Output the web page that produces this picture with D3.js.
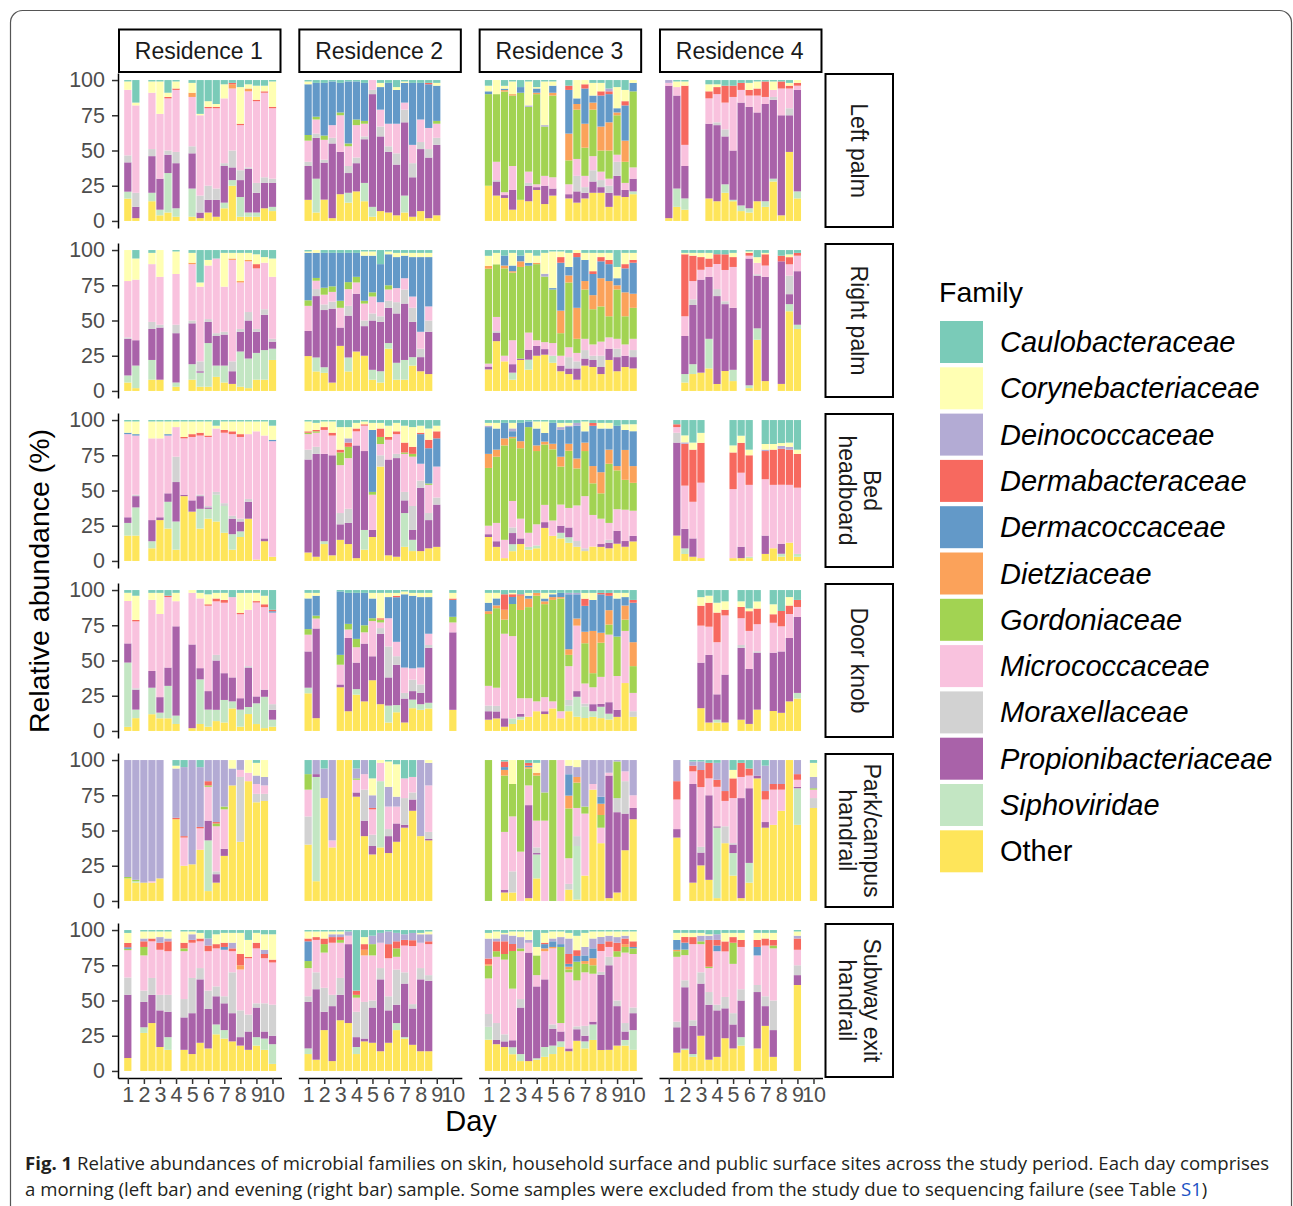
<!DOCTYPE html>
<html>
<head>
<meta charset="utf-8">
<title>Fig. 1</title>
<style>
  body { margin: 0; background: #fff; }
  svg text { font-family: "Liberation Sans", Arial, sans-serif; }
  svg text.caption { font-family: "Open Sans", sans-serif; }
</style>
</head>
<body>
<svg width="1293" height="1206"></svg>
<script src="https://d3js.org/d3.v7.min.js"></script>
<script>

// legend order (top of each bar first)
var families = ["Caulobacteraceae", "Corynebacteriaceae", "Deinococcaceae", "Dermabacteraceae",
  "Dermacoccaceae", "Dietziaceae", "Gordoniaceae", "Micrococcaceae", "Moraxellaceae",
  "Propionibacteriaceae", "Siphoviridae", "Other"];
var familyCodes = ["C", "Y", "D", "R", "B", "T", "G", "M", "X", "P", "S", "O"];
var familyColors = ["#7acbb8", "#ffffb3", "#b3abd4", "#f7695f", "#6399c8", "#fba25a",
  "#a2d352", "#f9c2de", "#d2d2d2", "#a962a9", "#c3e6c3", "#fee55a"];

var residences = ["Residence 1", "Residence 2", "Residence 3", "Residence 4"];
var siteLabels = [["Left palm"], ["Right palm"], ["Bed", "headboard"], ["Door knob"],
  ["Park/campus", "handrail"], ["Subway exit", "handrail"]];
var dayTicks = [1, 2, 3, 4, 5, 6, 7, 8, 9, 10];
var yTicks = [0, 25, 50, 75, 100];

// one string per sample: day1 morning, day1 evening, ... day10 morning (null = excluded)
// codes: C Caulo, Y Coryne, D Deino, R Dermabac, B Dermacocc, T Dietzia, G Gordonia,
//        M Micrococc, X Moraxella, P Propioni, S Siphoviridae, O Other
var leftPalm = [
  ["O16 S5 P21 X5 M47 Y6 C1", "O2 P8 X10 M62 Y2 C16", null, "O14 S6 P26 X5 M40 Y8 C1",
   "O4 S4 P22 M46 Y23 C1", "O6 S28 P13 X3 M37 R1 Y3 C9", "O3 S6 P32 X8 M44 R1 Y5 C1", null,
   "O3 S20 P25 X5 M35 T3 Y7 C2", "O2 P4 X12 M57 Y1 C24", "O6 P9 X10 M55 R1 Y4 C15",
   "O3 P12 X8 M57 R1 Y2 C17", "O9 S4 P26 X2 M46 Y10 C3", "O25 S4 P9 X12 M44 T3 R1 C2",
   "O3 S14 P12 X7 M32 R1 Y26 C5", "O3 S3 P31 X1 M54 T2 Y3 C3", "O3 S3 P14 X7 M58 R1 Y10 C4",
   "O9 P18 X4 M60 R1 Y4 C4", "O7 S3 P17 X3 M50 R1 Y18 C1"],
  ["O15 P24 X3 M15 G4 B36 Y2 C1", "O6 S24 P29 X3 M10 G2 B24 C2", "O15 P26 X2 M14 G3 B37 C2",
   "O2 P53 X4 M9 B31 C1", "O19 P30 M26 G2 B21 C2", "O13 S7 P14 X5 M14 G2 B44 C1",
   "O21 P20 X4 M23 G4 B27 C1", "O14 S13 P31 X2 M9 G2 B27 C2", "O3 S7 P80 X3 M7",
   "O7 P53 X7 M12 B16 Y3 C2", "O6 P43 X4 M16 B29 C2", "O4 P36 X8 M21 B24 Y2 C5",
   "O6 S12 P52 X9 M5 B14 Y1 C1", "O3 P28 X10 M13 B44 C2", "O7 P44 X5 M16 B26 C2",
   "O2 P43 X6 M15 B31 R1 C2", "O4 P50 X5 M10 G2 B25 Y2 C2", null, null],
  ["O25 G65 B2 Y4 C4", "O18 P10 M13 G48 X1 Y10", "O16 P2 M2 G70 T1 B1 Y2 C4",
   "O8 P14 M17 G50 T1 Y9 C1", "O15 G76 B4 C5", "O14 P11 X2 M8 G46 D1 Y17 C1",
   "O22 P2 M2 G64 T1 B3 Y1 C5", "O12 P13 M7 G35 D1 Y31 C1", "O18 P5 M8 G58 T2 B5 Y3 C1", null,
   "O16 P3 M7 G17 T19 B31 R3 C4", "O13 P8 X11 M12 G35 T4 B4 Y13", "O16 P4 X4 M8 G20 T17 B25 R3 Y3",
   "O20 P8 X8 M10 G33 T5 B5 Y9 C2", "O20 P4 X5 M6 G15 T17 B22 R3 Y6 C2",
   "O10 P10 X5 M5 G20 T20 B20 R2 D2 C6", "O18 P14 X10 M5 G28 T2 B3 Y15 C5",
   "O17 P5 M5 G15 T15 B25 R3 Y8 C7", "O19 S2 P9 M8 G54 B6 Y2"],
  ["O2 P94 M2 D2", "O10 S13 P66 M6 Y4 C1", "O8 S8 P23 M15 R42 Y3 C1", null, null,
   "O16 P53 M18 R5 Y5 C3", "O14 P54 X2 M20 R5 Y2 C3", "O20 S6 P34 X5 M19 R12 C4",
   "O14 S1 P35 M38 R8 C4", "O7 S4 P73 M9 R5 C2", "O6 S3 P72 M8 R4 Y5 C2", "O14 P63 M12 R5 Y5 C1",
   "O10 S4 P69 M5 R11 C1", "O28 S2 P56 X2 M5 Y6 C1", "O4 P71 M19 R5 C1",
   "O49 P26 X5 M14 R2 Y2 C2", "O16 S5 P72 M3 R2 Y2", null, null]
];

var rightPalm = [
  ["O6 S5 P26 X1 M40 Y22", "O2 S16 P18 M43 Y15 C6", null, "O8 S14 P22 X5 M41 Y8 C2",
   "O8 P37 X2 M34 Y19", null, "O3 S3 P35 X6 M36 Y16 C1", null, "O8 S11 P29 X2 M40 T1 Y7 C2",
   "O3 S10 P1 X7 M53 Y3 C23", "O3 S31 P15 X2 M38 Y4 C7", "O10 S8 P21 X2 M53 C6",
   "O6 S12 P22 X2 M32 Y24 C2", "O5 P9 X7 M72 T1 Y4 C2", "O3 S25 P14 X2 M33 T1 Y20 C2",
   "O2 S21 P27 X6 M36 T1 Y5 C2", "O8 S19 P15 X2 M43 R3 Y7 C3", "O8 S21 P25 X4 M33 Y4 C5",
   "O22 S8 P5 X2 M44 Y13 C6"],
  ["O25 P18 M18 G4 B34 Y1 C1", "O14 S10 P44 X5 M6 G2 B18 Y2", "O13 S4 P41 X4 M7 G5 B25 C2",
   "O6 P53 X5 M7 G4 B24 C2", "O32 P13 M14 G5 B34 C2", "O14 S10 P30 X7 M12 G5 B21 C2",
   "O28 P41 M8 G4 B17 C2", "O25 P21 X4 M12 G2 B32 Y3 C1", "O8 S7 P35 X5 M12 G3 B26 Y3 C1",
   "O6 S8 P35 X4 M10 B27 C10", "O30 S4 P25 X5 M8 G3 B22 Y2 C1", "O8 S12 P35 X8 M10 B22 Y3 C2",
   "O8 S14 P40 X10 M8 B16 Y2 C2", "O18 S6 P25 X10 M8 B28 Y3 C2", "O14 P10 X6 M12 B53 Y3 C2",
   "O12 P30 X8 M10 B35 Y3 C2", null, null, null],
  ["O15 P2 M2 G66 T2 Y7 C4", "O35 P6 M10 G37 X1 Y8 C2", "O21 M4 G62 T2 B7 C4",
   "O8 S5 P6 M17 G48 T1 B4 Y9 C2", "O22 P1 G65 T4 B4 C4", "O15 S7 P7 M12 G47 B2 Y7 C2",
   "O25 P7 M4 G54 T1 Y5 C4", "O26 P4 M5 G47 D2 Y15 C2", "O20 S5 M9 G38 B1 Y26 C1",
   "O14 P4 M7 G16 T16 B34 R4 Y4 C1", "O12 P4 X8 M7 G46 T5 B6 Y10 C2", "O8 P8 X5 M6 G10 T22 B36 R3 Y2",
   "O18 P5 X6 M8 G35 T6 B15 Y5 C2", "O17 P5 X3 M8 G25 T10 B15 R2 Y13 C2",
   "O12 P5 X8 M10 G25 T20 B12 R3 Y3 C2", "O22 P8 M8 G15 T25 B12 R3 Y5 C2",
   "O14 P10 X6 M7 G35 T3 B5 Y8 C12", "O17 P8 M8 G20 T17 B17 R3 Y8 C2",
   "O16 P8 X5 M8 G22 T10 B22 R2 Y5 C2"],
  [null, null, "O6 S6 P27 M14 R44 Y1 C2", "O12 S7 P42 X4 M13 R18 Y2 C2", "O13 P66 M7 R9 Y3 C2",
   "O16 S21 P44 M7 R6 Y4 C2", "O5 P63 X5 M18 R7 C3", "O14 P47 X2 M22 R11 C3",
   "O7 S8 P44 M29 R7 Y3 C2", null, "O2 S2 P90 M2 R2 Y1 C1", "O36 S8 P37 X1 M8 Y4 C5",
   "O7 P74 M8 R8 Y1 C2", null, "O5 P87 R4 C4", "O56 S5 P7 X13 M8 R5 Y2 C3",
   "O44 S3 P38 M11 R2 C2", null, null]
];

var bedHeadboard = [
  ["O18 S9 P4 M59 B1 Y8 C1", "O18 S20 P8 X1 M42 B1 Y9 C1", null, "O9 S5 P15 M58 Y12 C1",
   "O29 P2 M56 Y12 C1", "O23 S19 P6 M41 B1 Y9 C1", "O8 S20 P28 X18 M21 Y4 C1",
   "O46 P1 M40 R1 Y11 C1", "O35 P8 M45 R2 Y9 C1", "O23 S14 P9 X1 M42 R2 Y8 C1",
   "O30 S7 P1 X1 M49 R1 Y10 C1", "O28 S19 X2 M45 Y2 C4", "O20 S19 X2 M50 R2 Y6 C1",
   "O8 S11 P11 X2 M58 R2 Y7 C1", "O17 S4 P7 X2 M58 R2 Y9 C1", "O30 P12 X2 M46 Y9 C1",
   "O1 M91 Y7 C1", "O14 P2 M73 Y10 C1", "O3 M82 B1 Y10 C4"],
  ["O6 P66 X7 M11 G1 R1 Y7 C1", "O3 P73 X5 M10 G1 R1 Y5 C2", "O12 S2 P62 M17 R2 Y4 C1",
   "O4 P71 M14 R2 Y8 C1", "O15 P11 X8 M34 G9 R2 Y16 C5", "O12 P15 X10 M36 G8 R3 D3 Y8 C5",
   "O2 P80 M10 R2 Y4 C2", "O8 S14 P56 M18 R1 Y2 C1", "O17 P5 M25 G2 B44 Y5 C2",
   "O67 X8 M8 G5 R6 Y4 C2", "O4 P68 M14 R2 Y8 C4", "O3 P70 X3 M14 R2 Y6 C2",
   "O10 S24 P9 X6 M27 G1 R7 Y12 C4", "O7 S8 P7 X17 M35 G2 R5 Y14 C5",
   "O7 P45 X5 M12 B21 R1 Y5 C4", "O9 P20 X5 M20 G1 B25 R6 Y8 C6", "O10 P30 X5 M22 B20 R5 Y4 C4",
   null, null],
  ["O17 P2 M6 G41 T10 B19 D1 Y2 C2", "O10 P4 M13 G47 T5 B15 Y4 C2", "O2 M13 G67 T5 B11 C2",
   "O7 S5 P8 X4 M19 G45 T1 B4 D2 Y4 C2", "O12 P4 M14 G50 T5 B13 C2", "O8 S2 M10 G75 B4 C1",
   "O9 S2 M15 G52 T4 B12 Y5 C1", "O23 P4 M12 G42 T2 B6 Y8 C1", "O18 M11 G51 T4 B15 C2",
   "O16 S4 P5 M15 G27 T7 B19 D2 Y3 C2", "O13 S4 P7 M14 G41 T5 B12 D1 Y2 C2",
   "O10 X4 M25 G26 T7 B23 D2 C2", "O7 X2 M37 G32 T6 B8 Y7 C1", "O10 M22 G22 T12 B28 R2 C2",
   "O10 P2 M18 G18 T15 B31 Y4 C2", "O9 P4 X2 M12 G42 T10 B15 Y4 C2", "O12 P9 M15 G27 T3 B28 C4",
   "O10 P4 M22 G21 T21 B14 Y4 C3", "O14 P4 M18 G20 T12 B25 Y5 C3"],
  [null, "O18 P66 X7 M4 R2 C3", "O5 S4 P14 M31 R30 D1 Y5 C11", "O3 P13 M26 R37 Y5 C16",
   "O2 M53 R28 Y7 C9", null, null, null, "O2 M49 R26 Y5 C18", "O2 P8 M52 R21 Y5 C11",
   "O2 S1 M51 R21 Y4 C21", null, "O5 P13 M40 R20 D1 Y4 C17", "O9 M45 R25 Y4 C17",
   "O3 S2 P7 M41 R25 D2 Y2 C16", "O13 M41 R25 D2 Y3 C16", "O3 S2 M47 R24 Y3 C21", null, null]
];

var doorKnob = [
  ["O3 S47 P14 M31 Y6 C2", "O9 S6 P14 X1 M47 R1 Y17 C4", null, "O12 S19 P12 M51 Y5 C2",
   "O9 S4 P11 M59 Y15 C2", "O9 S23 P13 M50 R1 C4", "O5 S6 P64 M18 Y6 C2", null,
   "O2 P60 M37 Y2", "O5 S32 P8 M50 Y4 C2", "O3 S12 P13 M60 R1 Y7 C3", "O7 S8 P35 X4 M38 R2 Y4 C2",
   "O6 S16 P19 M50 R2 Y5 C2", "O16 S5 P17 M57 C5", "O3 S12 P8 M59 R1 Y14 C2",
   "O12 S5 P28 X1 M40 Y12 C2", "O5 S15 P5 M68 R1 Y6 C2", "O2 S22 P5 M58 R2 Y6 C4",
   "O3 S5 P7 X4 M65 B1 R1 C14"],
  ["O27 S4 P26 M12 G4 B22 Y4 C2", "O9 P63 M7 G2 B14 Y2 C2", null, null,
   "O31 P2 M14 G7 B45 C1", "O14 P52 M6 G4 B22 C2", "O26 S4 P19 M11 G6 B33 C2",
   "O21 P41 M8 G5 B23 C2", "O36 P17 M25 G2 B14 Y4 C2", "O19 P50 X4 M4 G2 R1 Y18 C2",
   "O6 S12 P20 X22 M20 B15 Y3 C2", "O13 S5 P28 X6 M10 B31 R1 Y2 C2", "O6 P17 X4 M18 B52 Y2 C1",
   "O16 S6 P6 X8 M8 B51 Y2 C2", "O15 S4 P8 X6 M12 B50 Y3 C2", "O16 S4 P39 X2 M8 B26 Y3 C2",
   null, null, "O15 P55 M7 G4 B12 R1 Y4 C2"],
  ["O8 P6 X4 M14 G51 T2 B6 Y7 C2", "O9 P5 X4 M13 G57 T2 B5 Y4 C2", "O3 P6 M60 G10 T7 R11 C3",
   "O5 S4 M59 G23 B5 R2 Y1 C2", "O8 S2 P2 M11 G62 T10 R1 C3", "O10 M13 G64 T6 B2 Y2 C2",
   "O14 M7 G75 T2 C2", "O12 P2 M10 G66 T2 B2 Y4 C2", "O16 M5 G72 T2 B2 Y1 C2",
   "O9 M5 G80 T1 B3 C2", "O14 S4 X4 M24 G8 T4 B39 D1 C2", "O10 S14 P4 M46 T5 B17 D1 C2",
   "O9 S8 X2 M14 G28 T8 B18 R5 Y4 C2", "O10 S4 P5 M12 G10 T30 B22 Y5 C2",
   "O9 S8 P2 M19 G24 T7 B27 R1 C2", "O8 S4 P8 M47 G7 T10 B10 R2 C2", "O10 P5 M24 G28 B27 Y4 C2",
   "O34 M37 G8 T10 B6 Y3 C2", "O10 X4 M13 G19 T17 B28 R2 C7"],
  [null, null, null, null, "O16 P32 M26 R14 Y6 C5", "O6 P48 M20 R17 Y5 C4",
   "O6 S2 P18 M37 R21 Y7 C9", "O6 P34 M42 R4 Y6 C8", null, "O8 P51 X2 M19 R8 Y4 C8",
   "O5 P39 M27 R14 Y2 C13", "O15 P40 X1 M19 R11 Y5 C8", null, "O14 P41 M21 R6 Y7 C10",
   "O13 P44 M18 R11 C15", "O21 P45 M17 R6 Y6 C5", "O23 S4 P54 M7 R5 C7", null, null]
];

var parkHandrail = [
  ["O16 G1 D83", "O13 S1 G1 D85", "O13 D87", "O13 M1 D86", "O16 D84", null,
   "O58 R1 D35 Y2 C4", "O25 M20 R1 D49 C5", "O26 D74", "O36 M15 R1 D42 C5",
   "O7 S36 P14 M24 G1 R3 D15", "O13 P6 X2 M32 G2 R1 D44", "O32 P5 M28 G2 D33", "O82 D12 Y6",
   "O42 X46 M5 D7", "O85 M6 Y9", "O70 X6 M7 D6 Y9 C2", "O71 X5 M6 D6 Y12", null],
  ["O40 X20 M19 G11 C10", "O14 S74 P2 D10", "O73 D21 C6", "O38 M5 D57", "O100", "O100",
   "O74 P3 M9 G1 D7 C6", "O46 P11 X22 M11 D10", "O33 P6 X8 M18 R1 D9 Y12 C13",
   "O38 S47 M13 Y2", "O34 P12 X5 M16 D14 Y18 C1", "O42 P13 M12 D7 Y23 C3",
   "O52 P2 X19 M14 C13", "O64 P8 X5 M11 C12", "O46 D54", "O43 P1 X5 M33 D16 Y2",
   null, null, null],
  ["G100", null, "O6 P2 M41 G40 T4 B2 R4 C1", "O6 X15 M39 G23 Y17", "M35 G65",
   "O2 P66 M14 G12 T1 B1 R2 C2", "O16 S17 P1 X4 M19 G32 T2 Y7 C2", "M57 G20 D23", "G100",
   "M100", "O8 X4 M18 G35 T9 B15 D6 Y4", "O1 S38 X7 M20 G18 T4 D7 Y5", "O18 M44 G5 D33",
   "O79 M4 D17", "O41 M11 G9 T8 B5 D26", "O2 P87 M2 D9", "O6 P57 X10 G26 D1",
   "O36 P26 X23 M7 D8", "O58 P8 M9 D25"],
  [null, "O45 P6 M21 R13 D15", null, "O13 P70 M9 R4 D3 C1", "O25 P9 X4 M42 R12 D6 C1",
   "O15 P60 M12 R11 C2", "O2 S50 P1 M28 R5 D12 C2", "O41 X12 M18 R7 D22",
   "O18 S16 P6 X1 M32 R14 Y6 C7", "O2 P71 M15 R10 C2", "O13 S14 P53 M9 R5 C6", "O87 P2 D11",
   "O52 P4 M16 R6 D18 C4", "O54 M25 R4 D17", "O64 M15 R4 D17", "O100", "O54 S26 P1 M5 R4 D10",
   null, "O66 X7 M6 G1 D8 Y10 C2"]
];

var subwayHandrail = [
  ["O9 P44 X12 M19 G1 B1 R3 Y7 C2", null, "O27 S4 P18 X8 M25 G6 R4 D2 Y5 C1",
   "O34 P20 X12 M26 R2 Y5 C1", "O17 P26 X11 M32 R5 D4 Y4 C1", "O15 S9 P18 X12 M31 R7 D2 Y5 C1",
   null, "O15 P23 X13 M34 G2 R4 Y8 C1", "O12 P29 X25 M25 R2 D4 Y2 C1", "O20 P45 X8 M19 R2 Y4 C2",
   "O16 P28 X13 M28 R4 D5 C6", "O26 S7 P20 X7 M27 R3 Y7 C3", "O23 S6 P19 X5 M33 B2 R3 Y7 C2",
   "O21 P20 X29 M15 R2 D4 Y7 C2", "O18 P6 X19 M29 T3 R8 Y15 C2", "O15 P13 X12 M40 R1 Y12 C7",
   "O18 S6 P21 X3 M39 R4 Y7 C2", "O15 S8 P5 X20 M32 R3 D3 Y11 C3", "O5 S14 P6 X22 M30 R2 Y18 C3"],
  ["O12 S4 P33 X4 M20 G5 B14 R2 Y5 C1", "O8 P50 X12 M23 R2 Y4 C1", "O29 P13 X17 M25 G6 R4 Y5 C1",
   "O7 P39 X8 M37 R4 D2 Y2 C1", "O36 P18 X12 M25 G2 R2 D2 Y2 C1", "O34 P56 M6 D3 C1",
   "O12 S5 P7 X18 M10 G2 R3 C43", "O21 P2 X26 M33 T4 R4 Y5 C5", "O20 P25 X5 M32 G8 D6 C4",
   "O14 P51 X8 M18 D7 C2", "O20 P23 X10 M27 R10 D9 C1", "O29 S5 P13 X25 M9 G6 R5 D6 C2",
   "O23 S1 P38 X8 M19 R4 D4 C3", "O18 P25 X3 M40 R4 D5 C2", "O14 P51 X8 M18 D6 Y1 C2",
   "O14 P50 X4 M22 R2 D5 Y2 C1", null, null, null],
  ["O22 S9 X9 M25 G9 T1 R4 D14 Y4 C2", "O19 P3 X12 M47 G4 R7 D2 Y5 C1",
   "O17 P4 X5 M53 G4 R9 D5 Y1 C2", "O12 S5 P5 M37 G27 R5 D6 Y3 C1", "O7 S5 P33 X6 M34 G2 D8 Y4 C1",
   "O7 P77 M7 D2 Y6 C1", "O8 S1 P51 M8 G14 Y6 C12", "O10 S7 P48 M20 T2 B3 R1 Y7 C2",
   "O12 S6 P12 X3 M54 T1 B4 D2 Y5 C1", "O17 S4 P7 M6 G54 B2 D5 Y4 C1",
   "O14 P2 M54 G2 T2 R7 B2 D11 Y4 C2", "O21 P8 X2 M32 G13 B4 R4 Y10 C4",
   "O16 S5 P4 X7 M38 G6 T2 B4 D6 Y10 C2", "O22 S11 P2 M34 G6 T5 B7 D7 Y5 C1",
   "O15 P54 X2 M15 R5 D5 Y4 C1", "O15 P60 X6 M7 R4 D4 Y3 C1", "O18 P28 X4 M31 G4 R6 D4 Y4 C1",
   "O18 S4 P6 X6 M50 G4 T2 R4 D2 Y3 C1", "O15 S14 P12 X4 M38 G4 R4 B1 Y7 C1"],
  [null, "O13 P18 X4 M46 G4 T1 B7 Y5 C2", "O15 S1 P44 X5 M18 G4 B5 R4 Y3 C2",
   "O10 S2 P20 X4 M54 R5 Y3 C2", "O25 P37 X8 M20 G2 D4 Y2 C2", "O8 P39 X9 M17 G1 R19 D3 Y1 C3",
   "O10 P33 X4 M38 B4 R4 D4 C3", "O23 P21 X8 M32 R7 Y6 C2", "O16 P17 X8 M35 G15 R4 Y3 C2",
   "O18 S6 P26 X8 M30 R5 Y5 C2", null, "O16 P40 X5 M21 B6 R5 Y5 C2", "O32 P14 X7 M36 R5 Y4 C2",
   "O10 P19 X21 M37 G2 R4 Y5 C2", null, null, "O61 P7 X7 M11 R8 D2 Y3 C1", null, null]
];

var siteData = [leftPalm, rightPalm, bedHeadboard, doorKnob, parkHandrail, subwayHandrail];

// ---------------------------------------------------------------------------

var svg = d3.select("svg");
var panelW = 163.5, panelH = 155;
var colStep = 180.33, rowStep = 170;
var plotLeft = 118, plotTop = 73;

var codeToFamily = {};
familyCodes.forEach(function (c, i) { codeToFamily[c] = families[i]; });
var stackKeys = families.slice().reverse(); // Other at the bottom
var color = d3.scaleOrdinal().domain(families).range(familyColors);

var x = d3.scaleLinear().domain([0.39, 10.56]).range([0, panelW]);
var y = d3.scaleLinear().domain([-0.05, 1.05]).range([panelH, 0]);
var barW = x(1.45) - x(1);

function parseSample(str, i) {
  var row = { x: Math.floor(i / 2) + 1 + (i % 2) * 0.5 };
  stackKeys.forEach(function (k) { row[k] = 0; });
  str.split(" ").forEach(function (tok) {
    row[codeToFamily[tok[0]]] += +tok.slice(1);
  });
  return row;
}

var stack = d3.stack().keys(stackKeys).offset(d3.stackOffsetExpand);

// outer frame
svg.append("rect")
  .attr("x", 10.5).attr("y", 10.5)
  .attr("width", 1281).attr("height", 1230)
  .attr("rx", 12)
  .attr("fill", "none").attr("stroke", "#555").attr("stroke-width", 1.2);

siteData.forEach(function (site, r) {
  site.forEach(function (samples, c) {
    var rows = [];
    samples.forEach(function (s, i) { if (s) rows.push(parseSample(s, i)); });
    var series = stack(rows);

    var g = svg.append("g")
      .attr("transform", "translate(" + (plotLeft + c * colStep) + "," + (plotTop + r * rowStep) + ")");

    g.selectAll("g.fam")
      .data(series)
      .enter().append("g")
      .attr("class", "fam")
      .attr("fill", function (d) { return color(d.key); })
      .selectAll("rect")
      .data(function (d) { return d; })
      .enter().append("rect")
      .attr("x", function (d) { return x(d.data.x) - barW / 2; })
      .attr("width", barW)
      .attr("y", function (d) { return y(d[1]); })
      .attr("height", function (d) { return Math.max(0, y(d[0]) - y(d[1])); });

    if (c === 0) {
      var ya = g.append("g")
        .call(d3.axisLeft(y)
          .tickValues(yTicks.map(function (t) { return t / 100; }))
          .tickFormat(function (d) { return Math.round(d * 100); })
          .tickSize(6).tickSizeOuter(0).tickPadding(7));
      styleAxis(ya);
    }

    if (r === siteData.length - 1) {
      var xa = g.append("g")
        .attr("transform", "translate(0," + panelH + ")")
        .call(d3.axisBottom(x).tickValues(dayTicks).tickSize(6).tickSizeOuter(0).tickPadding(3));
      styleAxis(xa);
    }

    if (r === 0) {
      svg.append("rect")
        .attr("x", plotLeft + c * colStep + 1).attr("y", 29.5)
        .attr("width", panelW - 2).attr("height", 42.5)
        .attr("fill", "#fff").attr("stroke", "#000").attr("stroke-width", 2);
      svg.append("text")
        .attr("x", plotLeft + c * colStep + panelW / 2 - 1).attr("y", 51)
        .attr("text-anchor", "middle").attr("dominant-baseline", "central")
        .attr("font-size", 23).attr("fill", "#1a1a1a")
        .text(residences[c]);
    }
  });

  // right strip
  var top = plotTop + r * rowStep;
  svg.append("rect")
    .attr("x", 825.5).attr("y", top + 1)
    .attr("width", 67.5).attr("height", panelH - 2)
    .attr("fill", "#fff").attr("stroke", "#000").attr("stroke-width", 2);
  var lines = siteLabels[r];
  var st = svg.append("text")
    .attr("transform", "translate(859," + (top + panelH / 2) + ") rotate(90)")
    .attr("text-anchor", "middle")
    .attr("font-size", 23).attr("fill", "#1a1a1a");
  lines.forEach(function (l, k) {
    st.append("tspan")
      .attr("x", 0)
      .attr("y", (k - (lines.length - 1) / 2) * 25)
      .attr("dominant-baseline", "central")
      .text(l);
  });
});

function styleAxis(a) {
  a.select(".domain").attr("stroke", "#000").attr("stroke-width", 1.5);
  a.selectAll(".tick line").attr("stroke", "#333").attr("stroke-width", 1.5);
  a.selectAll(".tick text").attr("font-size", 21.5).attr("fill", "#4d4d4d")
    .attr("font-family", "Liberation Sans, Arial, sans-serif");
}

// axis titles
svg.append("text")
  .attr("transform", "translate(49,581) rotate(-90)")
  .attr("text-anchor", "middle")
  .attr("font-size", 28.5).attr("fill", "#000")
  .text("Relative abundance (%)");

svg.append("text")
  .attr("x", 471).attr("y", 1131)
  .attr("text-anchor", "middle")
  .attr("font-size", 29).attr("fill", "#000")
  .text("Day");

// legend
var lg = svg.append("g").attr("transform", "translate(940,0)");
lg.append("text")
  .attr("x", -1).attr("y", 302)
  .attr("font-size", 28.5).attr("fill", "#000")
  .text("Family");
families.forEach(function (f, i) {
  var yy = 321 + i * 46.3;
  lg.append("rect")
    .attr("x", 0).attr("y", yy)
    .attr("width", 43).attr("height", 42)
    .attr("fill", familyColors[i]);
  lg.append("text")
    .attr("x", 60).attr("y", yy + 21)
    .attr("dominant-baseline", "central")
    .attr("font-size", 29).attr("fill", "#000")
    .attr("font-style", f === "Other" ? "normal" : "italic")
    .text(f);
});

// caption
var cap = svg.append("g").attr("font-size", 18.6).attr("fill", "#231f20");
var c1 = cap.append("text").attr("class", "caption").attr("x", 25).attr("y", 1170);
c1.append("tspan").attr("font-weight", "bold").text("Fig. 1");
c1.append("tspan").text(" Relative abundances of microbial families on skin, household surface and public surface sites across the study period. Each day comprises");
var c2 = cap.append("text").attr("class", "caption").attr("x", 25).attr("y", 1196);
c2.append("tspan").text("a morning (left bar) and evening (right bar) sample. Some samples were excluded from the study due to sequencing failure (see Table ");
c2.append("tspan").attr("fill", "#1b52c4").text("S1");
c2.append("tspan").text(")");

</script>
</body>
</html>
